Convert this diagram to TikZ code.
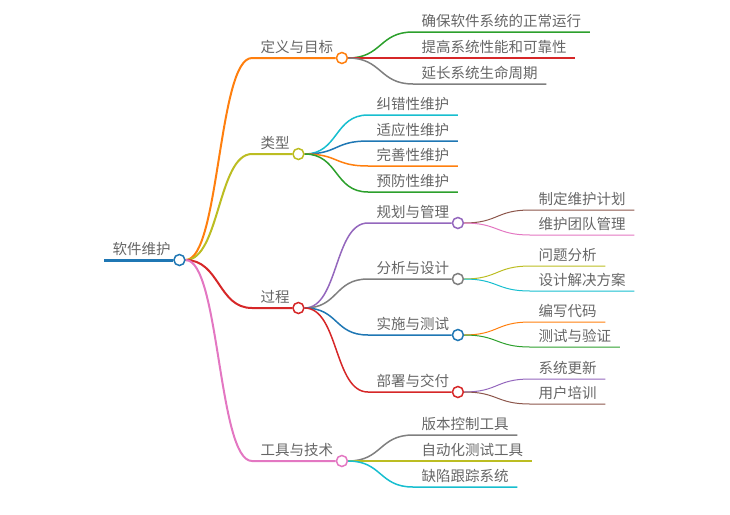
\documentclass[tikz,border=0pt]{standalone}
\usepackage{fontspec}
\newfontfamily\cjk{Noto Sans CJK SC}
\usepackage{xcolor}
\usetikzlibrary{backgrounds}

\definecolor{mmblue}{HTML}{1F77B4}
\definecolor{mmorange}{HTML}{FF7F0E}
\definecolor{mmgreen}{HTML}{2CA02C}
\definecolor{mmred}{HTML}{D62728}
\definecolor{mmpurple}{HTML}{9467BD}
\definecolor{mmbrown}{HTML}{8C564B}
\definecolor{mmpink}{HTML}{E377C2}
\definecolor{mmgray}{HTML}{7F7F7F}
\definecolor{mmolive}{HTML}{BCBD22}
\definecolor{mmcyan}{HTML}{17BECF}
\definecolor{textgray}{HTML}{666666}

\begin{document}
\begin{tikzpicture}[
  x=1pt, y=-1pt,
  txt/.style={
    font=\cjk\fontsize{14.5}{17}\selectfont, text=textgray,
    anchor=south west, inner xsep=8.5pt, inner ysep=5.5pt, text depth=0pt
  },
  dot/.style={
    circle, draw=#1, fill=white, line width=1.5pt,
    minimum size=11pt, inner sep=0pt
  },
  dot/.default=mmblue,
  branch/.style={to path={.. controls +(34,0) and +(-34,0) .. (\tikztotarget)}},
  lvl0/.style={line width=3pt},
  lvl1/.style={line width=2pt},
  lvl2/.style={line width=1.5pt},
  lvl3/.style={line width=1pt}
]
  \useasboundingbox (0,0) rectangle (730,514);

  % root
  \node[txt] (root) at (104,260) {软件维护};
  \node[dot=mmblue] (rootc) at (root.south east) {};

  % first level
  \node[txt] (def) at (252,58) {定义与目标};
  \node[dot=mmorange] (defc) at (def.south east) {};
  \node[txt] (typ) at (252,154) {类型};
  \node[dot=mmolive] (typc) at (typ.south east) {};
  \node[txt] (proc) at (252,308) {过程};
  \node[dot=mmred] (procc) at (proc.south east) {};
  \node[txt] (tool) at (252,461) {工具与技术};
  \node[dot=mmpink] (toolc) at (tool.south east) {};

  % goals
  \node[txt] (d1) at (413,32) {确保软件系统的正常运行};
  \node[txt] (d2) at (413,58) {提高系统性能和可靠性};
  \node[txt] (d3) at (413,84) {延长系统生命周期};

  % kinds
  \node[txt] (t1) at (368,115) {纠错性维护};
  \node[txt] (t2) at (368,141) {适应性维护};
  \node[txt] (t3) at (368,166) {完善性维护};
  \node[txt] (t4) at (368,192) {预防性维护};

  % process steps
  \node[txt] (p1) at (368,223) {规划与管理};
  \node[dot=mmpurple] (p1c) at (p1.south east) {};
  \node[txt] (p2) at (368,279) {分析与设计};
  \node[dot=mmgray] (p2c) at (p2.south east) {};
  \node[txt] (p3) at (368,335) {实施与测试};
  \node[dot=mmblue] (p3c) at (p3.south east) {};
  \node[txt] (p4) at (368,392) {部署与交付};
  \node[dot=mmred] (p4c) at (p4.south east) {};

  \node[txt] (p11) at (530,210) {制定维护计划};
  \node[txt] (p12) at (530,235) {维护团队管理};
  \node[txt] (p21) at (530,266) {问题分析};
  \node[txt] (p22) at (530,291) {设计解决方案};
  \node[txt] (p31) at (530,322) {编写代码};
  \node[txt] (p32) at (530,347) {测试与验证};
  \node[txt] (p41) at (530,379) {系统更新};
  \node[txt] (p42) at (530,404) {用户培训};

  % tools
  \node[txt] (k1) at (413,435) {版本控制工具};
  \node[txt] (k2) at (413,461) {自动化测试工具};
  \node[txt] (k3) at (413,487) {缺陷跟踪系统};

  \begin{scope}[on background layer]
    \draw[lvl0, mmblue] (root.south west) -- (rootc);

    \draw[lvl1, mmorange] (rootc.east) to[branch] (def.south west) -- (defc);
    \draw[lvl1, mmolive] (rootc.east) to[branch] (typ.south west) -- (typc);
    \draw[lvl1, mmred] (rootc.east) to[branch] (proc.south west) -- (procc);
    \draw[lvl1, mmpink] (rootc.east) to[branch] (tool.south west) -- (toolc);

    \draw[lvl2, mmgreen] (defc.east) to[branch] (d1.south west) -- (d1.south east);
    \draw[lvl2, mmred] (defc.east) to[branch] (d2.south west) -- (d2.south east);
    \draw[lvl2, mmgray] (defc.east) to[branch] (d3.south west) -- (d3.south east);

    \draw[lvl2, mmcyan] (typc.east) to[branch] (t1.south west) -- (t1.south east);
    \draw[lvl2, mmblue] (typc.east) to[branch] (t2.south west) -- (t2.south east);
    \draw[lvl2, mmorange] (typc.east) to[branch] (t3.south west) -- (t3.south east);
    \draw[lvl2, mmgreen] (typc.east) to[branch] (t4.south west) -- (t4.south east);

    \draw[lvl2, mmpurple] (procc.east) to[branch] (p1.south west) -- (p1c);
    \draw[lvl2, mmgray] (procc.east) to[branch] (p2.south west) -- (p2c);
    \draw[lvl2, mmblue] (procc.east) to[branch] (p3.south west) -- (p3c);
    \draw[lvl2, mmred] (procc.east) to[branch] (p4.south west) -- (p4c);

    \draw[lvl3, mmbrown] (p1c.east) to[branch] (p11.south west) -- (p11.south east);
    \draw[lvl3, mmpink] (p1c.east) to[branch] (p12.south west) -- (p12.south east);
    \draw[lvl3, mmolive] (p2c.east) to[branch] (p21.south west) -- (p21.south east);
    \draw[lvl3, mmcyan] (p2c.east) to[branch] (p22.south west) -- (p22.south east);
    \draw[lvl3, mmorange] (p3c.east) to[branch] (p31.south west) -- (p31.south east);
    \draw[lvl3, mmgreen] (p3c.east) to[branch] (p32.south west) -- (p32.south east);
    \draw[lvl3, mmpurple] (p4c.east) to[branch] (p41.south west) -- (p41.south east);
    \draw[lvl3, mmbrown] (p4c.east) to[branch] (p42.south west) -- (p42.south east);

    \draw[lvl2, mmgray] (toolc.east) to[branch] (k1.south west) -- (k1.south east);
    \draw[lvl2, mmolive] (toolc.east) to[branch] (k2.south west) -- (k2.south east);
    \draw[lvl2, mmcyan] (toolc.east) to[branch] (k3.south west) -- (k3.south east);
  \end{scope}
\end{tikzpicture}
\end{document}
